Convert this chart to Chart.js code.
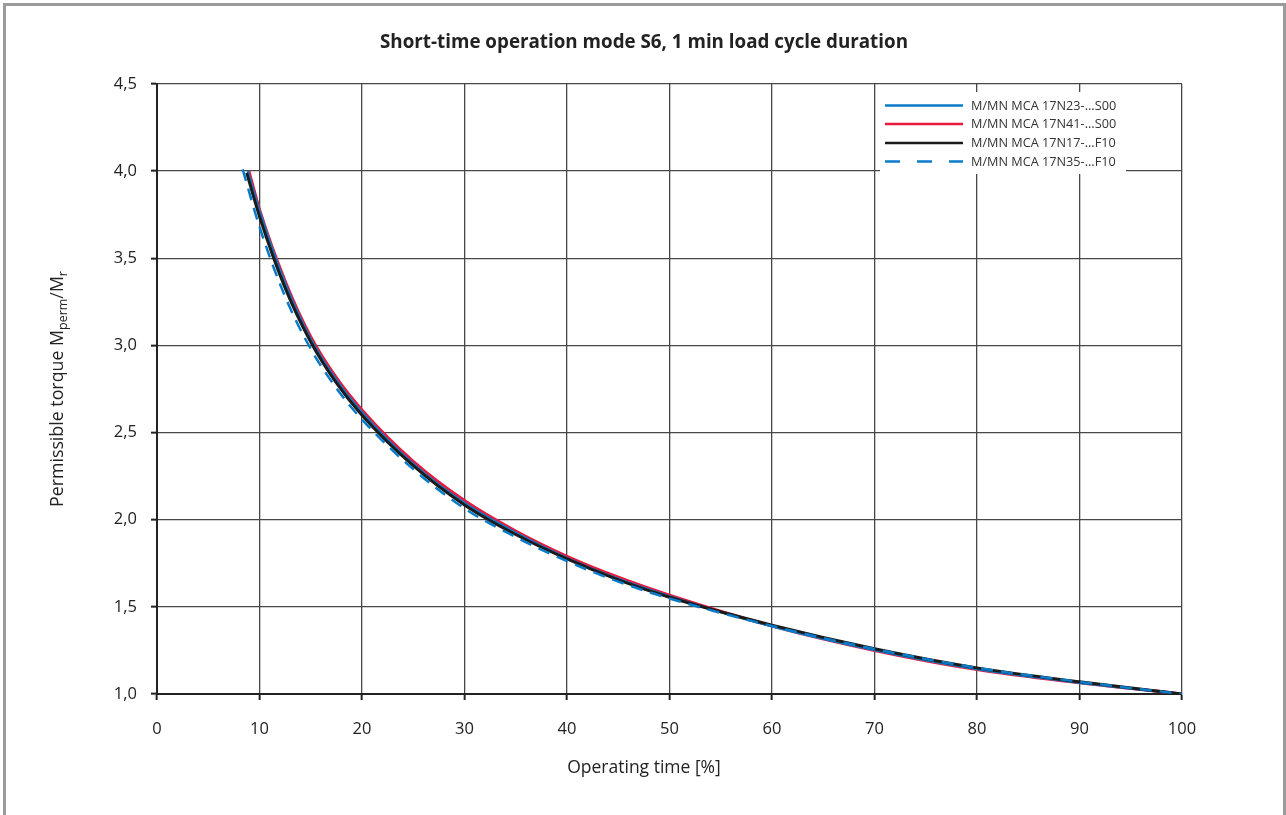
<!DOCTYPE html>
<html><head><meta charset="utf-8">
<script src="https://cdn.jsdelivr.net/npm/chart.js@4/dist/chart.umd.min.js"></script>
<style>
html,body{margin:0;padding:0;background:#fff;}
#wrap{position:relative;width:1286px;height:815px;overflow:hidden;background:#fff;}
#frame{position:absolute;left:3px;top:3px;width:1283px;height:900px;border:3px solid #9b9b9b;box-sizing:border-box;pointer-events:none;}
canvas{position:absolute;left:0;top:0;}
</style></head>
<body>
<div id="wrap"><canvas id="c" width="1286" height="815"></canvas><div id="frame"></div></div>
<script>
const chartTitle = 'Short-time operation mode S6, 1 min load cycle duration';
const xAxisTitle = 'Operating time [%]';
const seriesNames = ['M/MN MCA 17N23-...S00','M/MN MCA 17N41-...S00','M/MN MCA 17N17-...F10','M/MN MCA 17N35-...F10'];
const xTickLabels = ['0','10','20','30','40','50','60','70','80','90','100'];
const yTickLabels = ['1,0','1,5','2,0','2,5','3,0','3,5','4,0','4,5'];

const xBlue = [8.85,10,12.5,15,17.5,20,25,30,35,40,45,50,60,70,80,90,100];
const yBlue = [4.00,3.77,3.355,3.035,2.80,2.615,2.32,2.095,1.925,1.78,1.66,1.56,1.388,1.252,1.143,1.065,1.0];
const xRed = [8.97,10,12.5,15,17.5,20,25,30,35,40,45,50,60,70,80,90,100];
const yRed = [4.00,3.78,3.37,3.05,2.815,2.63,2.335,2.11,1.935,1.79,1.67,1.567,1.39,1.25,1.14,1.064,1.0];
const xBlack = [8.75,10,12.5,15,17.5,20,25,30,35,40,45,50,60,70,80,90,100];
const yBlack = [3.99,3.74,3.33,3.02,2.785,2.60,2.31,2.085,1.915,1.775,1.655,1.555,1.395,1.26,1.15,1.07,1.0];
const xDash = [8.36,10,12.5,15,17.5,20,25,30,35,40,45,50,60,70,80,90,100];
const yDash = [4.01,3.68,3.28,2.98,2.755,2.575,2.29,2.065,1.90,1.762,1.645,1.548,1.39,1.258,1.15,1.07,1.0];

const FONT = '"Open Sans", Lato, sans-serif';
const TXT = '#222';
const colBlue = '#0a7bc9', colRed = '#e8193f', colBlack = '#1b1b1b';

function pts(xs, ys){ return xs.map((x,i)=>({x:x, y:ys[i]})); }

const legendItems = [
  {label: seriesNames[0], color: colBlue, dash: []},
  {label: seriesNames[1], color: colRed, dash: []},
  {label: seriesNames[2], color: colBlack, dash: []},
  {label: seriesNames[3], color: colBlue, dash: [15,17]}
];

const textPlugin = {
  id: 'texts',
  afterDraw(chart){
    const ctx = chart.ctx;
    const ca = chart.chartArea;
    ctx.save();
    ctx.fillStyle = TXT;
    ctx.font = 'bold 18.8px ' + FONT;
    ctx.textAlign = 'center';
    ctx.textBaseline = 'middle';
    ctx.fillText(chartTitle, 644, 43);
    ctx.font = '17.5px ' + FONT;
    ctx.fillText(xAxisTitle, 644, 768);
    const parts = [
      {t:'Permissible torque M', sub:false},
      {t:'perm', sub:true},
      {t:'/M', sub:false},
      {t:'r', sub:true}
    ];
    const mainF = '17.8px ' + FONT, subF = '12.5px ' + FONT;
    let total = 0;
    parts.forEach(p=>{ ctx.font = p.sub?subF:mainF; p.w = ctx.measureText(p.t).width; total += p.w; });
    ctx.translate(57, (ca.top+ca.bottom)/2);
    ctx.rotate(-Math.PI/2);
    ctx.textAlign = 'left';
    ctx.textBaseline = 'alphabetic';
    let x = -total/2;
    parts.forEach(p=>{ ctx.font = p.sub?subF:mainF; ctx.fillText(p.t, x, p.sub?9.5:6); x += p.w; });
    ctx.restore();

    ctx.save();
    ctx.fillStyle = '#fff';
    ctx.fillRect(880, 92, 246, 82);
    ctx.font = '12.7px ' + FONT;
    ctx.textAlign = 'left';
    ctx.textBaseline = 'middle';
    const rows = [105.5, 124, 143, 161.5];
    legendItems.forEach((it,i)=>{
      ctx.strokeStyle = it.color;
      ctx.lineWidth = 2.7;
      ctx.setLineDash(it.dash);
      ctx.beginPath();
      ctx.moveTo(885, rows[i]);
      ctx.lineTo(963, rows[i]);
      ctx.stroke();
      ctx.setLineDash([]);
      ctx.fillStyle = '#333';
      ctx.fillText(it.label, 971, rows[i]+0.5);
    });
    ctx.restore();
  }
};

new Chart(document.getElementById('c'), {
  type: 'line',
  data: {
    datasets: [
      {label: seriesNames[0], data: pts(xBlue,yBlue), borderColor: colBlue, borderWidth: 2.5, order: 2},
      {label: seriesNames[1], data: pts(xRed,yRed), borderColor: colRed, borderWidth: 3, order: 3},
      {label: seriesNames[2], data: pts(xBlack,yBlack), borderColor: colBlack, borderWidth: 3, order: 1},
      {label: seriesNames[3], data: pts(xDash,yDash), borderColor: colBlue, borderWidth: 2.5, borderDash: [12,8], order: 0}
    ]
  },
  options: {
    responsive: false,
    animation: false,
    events: [],
    layout: {padding: {left: 0, top: 84, right: 104, bottom: 81}},
    elements: {point: {radius: 0}, line: {cubicInterpolationMode: 'monotone', fill: false}},
    plugins: {legend: {display: false}, title: {display: false}, tooltip: {enabled: false}},
    scales: {
      x: {
        type: 'linear', min: 0, max: 100,
        ticks: {stepSize: 10, autoSkip: false, maxRotation: 0, color: TXT, padding: 19,
          font: {family: FONT, size: 16.5},
          callback: (v, i) => xTickLabels[i]},
        grid: {color: '#474747', lineWidth: 1.3, tickLength: 6, tickColor: '#222', tickWidth: 2},
        border: {color: '#222', width: 2},
        afterFit: s => { s.height = 40; }
      },
      y: {
        type: 'linear', min: 1, max: 4.5,
        ticks: {stepSize: 0.5, color: TXT, padding: 14,
          font: {family: FONT, size: 16.5},
          callback: (v, i) => yTickLabels[i]},
        grid: {color: '#474747', lineWidth: 1.3, tickLength: 6, tickColor: '#222', tickWidth: 2},
        border: {color: '#222', width: 2},
        afterFit: s => { s.width = 157; }
      }
    }
  },
  plugins: [textPlugin]
});
</script>
</body></html>
